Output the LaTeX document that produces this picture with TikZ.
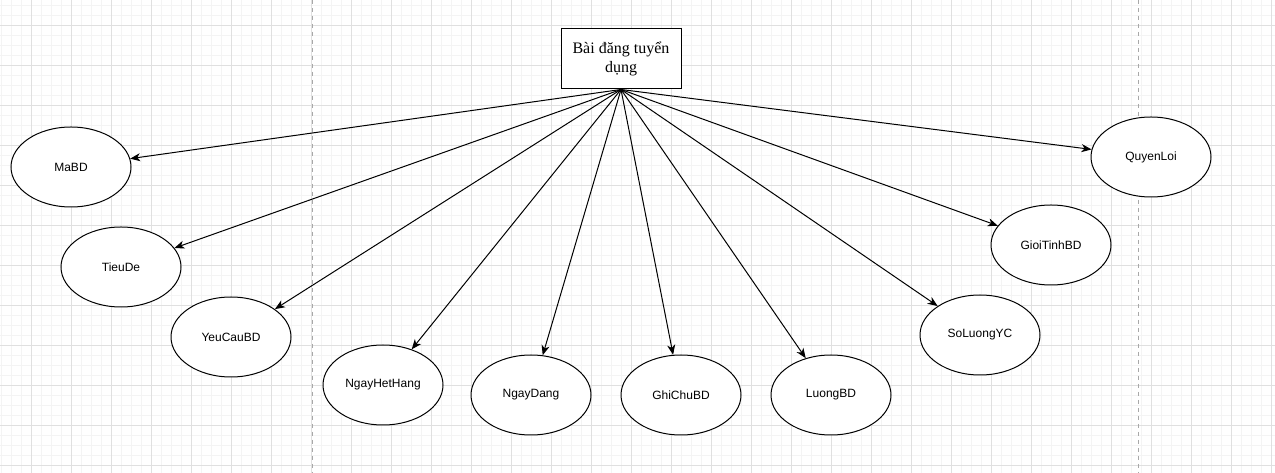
\documentclass[tikz,border=0pt]{standalone}
\usepackage{fontspec}
\setmainfont{Liberation Serif}
\setsansfont{Liberation Sans}
\usetikzlibrary{shapes.geometric, arrows.meta}

\definecolor{gridminor}{HTML}{F4F4F4}
\definecolor{gridmajor}{HTML}{E0E0E0}
\definecolor{pageline}{HTML}{A8A8A8}

\begin{document}
\begin{tikzpicture}[x = 0.75pt, y = -0.75pt, font = \sffamily\fontsize{9}{11}\selectfont,
	attr/.style = {ellipse, draw = black, line width = 0.75pt, fill = white, minimum width = 90pt, minimum height = 60pt, inner sep = 0pt},
	entity/.style = {rectangle, draw = black, line width = 0.75pt, fill = white, minimum width = 90pt, minimum height = 45pt, inner sep = 0pt, align = center, font = \rmfamily\fontsize{12}{14}\selectfont},
	link/.style = {-{Stealth[length = 7.5pt, width = 6pt, inset = 2.2pt]}, line width = 0.75pt}]

	\useasboundingbox (0, 0) rectangle (1275, 473);
	\fill [white] (0, 0) rectangle (1275, 473);

	% grid
	\foreach \x in {1, 11, ..., 1271} \draw [gridminor, line width = 0.75pt] (\x, 0) -- (\x, 473);
	\foreach \y in {6, 16, ..., 466} \draw [gridminor, line width = 0.75pt] (0, \y) -- (1275, \y);
	\foreach \x in {31, 71, ..., 1271} \draw [gridmajor, line width = 0.75pt] (\x, 0) -- (\x, 473);
	\foreach \y in {26, 66, ..., 466} \draw [gridmajor, line width = 0.75pt] (0, \y) -- (1275, \y);
	\draw [pageline, dashed, line width = 0.75pt] (312, 0) -- (312, 473);
	\draw [pageline, dashed, line width = 0.75pt] (1138, 0) -- (1138, 473);

	\node [entity] (post) at (621, 59) {Bài đăng tuyển\\dụng};

	\node [attr] (mabd) at (71, 167) {MaBD};
	\node [attr] (tieude) at (121, 267) {TieuDe};
	\node [attr] (yeucau) at (231, 337) {YeuCauBD};
	\node [attr] (ngayhet) at (383, 385) {NgayHetHang};
	\node [attr] (ngaydang) at (531, 395) {NgayDang};
	\node [attr] (ghichu) at (681, 395) {GhiChuBD};
	\node [attr] (luong) at (831, 395) {LuongBD};
	\node [attr] (soluong) at (980, 335) {SoLuongYC};
	\node [attr] (gioitinh) at (1051, 245) {GioiTinhBD};
	\node [attr] (quyenloi) at (1151, 157) {QuyenLoi};

	\foreach \n in {mabd, tieude, yeucau, ngayhet, ngaydang, ghichu, luong, soluong, gioitinh, quyenloi}
		\draw [link] (post.south) -- (\n);

\end{tikzpicture}
\end{document}
